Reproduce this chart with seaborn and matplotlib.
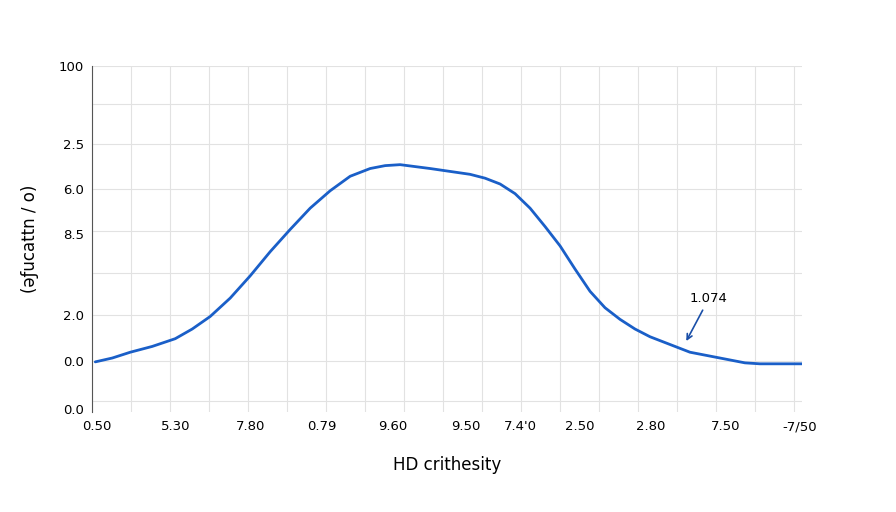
import matplotlib
matplotlib.use("Agg")
import matplotlib.pyplot as plt
import seaborn as sns
import pandas as pd

# curve samples (x position along axis, height)
curve_x = [3, 20, 38, 60, 83, 100, 118, 138, 158, 178, 198, 218, 238, 258, 278, 293, 308, 323, 338,
           358, 378, 393, 408, 423, 438, 453, 468, 483, 498, 513, 528, 543, 558, 578, 598, 618, 638, 653, 668, 690, 710]
curve_y = [40, 44, 50, 56, 64, 74, 87, 106, 129, 154, 177, 199, 217, 232, 240, 243, 244, 242, 240,
           237, 234, 230, 224, 214, 199, 180, 160, 136, 113, 96, 84, 74, 66, 58, 50, 46, 42, 39, 38, 38, 38]

x_tick_pos = [5, 83, 158, 230, 301, 374, 428, 488, 559, 634, 708]
x_tick_labels = ["0.50", "5.30", "7.80", "0.79", "9.60", "9.50", "7.4'0", "2.50", "2.80", "7.50", "-7/50"]
y_tick_pos = [346, 265, 219, 172, 88, 41, -9]
y_tick_labels = ["100", "2.5", "6.0", "8.5", "2.0", "0.0", "0.0"]
y_grid = [346, 307, 265, 219, 175, 132, 88, 41, 0]
x_grid = list(range(0, 711, 39))

df = pd.DataFrame({"x": curve_x, "y": curve_y})

fig = plt.figure(figsize=(8.96, 5.12), dpi=100)
ax = fig.add_axes([0.103, 0.195, 0.792, 0.676])
for g in y_grid:
    ax.axhline(g, color="#e2e2e2", lw=0.8, zorder=0)
for g in x_grid:
    ax.axvline(g, color="#e2e2e2", lw=0.8, zorder=0)

sns.lineplot(data=df, x="x", y="y", ax=ax, color="#1a5fc8", lw=2.0,
             errorbar=None, solid_joinstyle="round", solid_capstyle="round")

ax.set_xlim(0, 710)
ax.set_ylim(-12, 346)
ax.set_xticks(x_tick_pos)
ax.set_xticklabels(x_tick_labels, fontsize=9.5)
ax.set_yticks(y_tick_pos)
ax.set_yticklabels(y_tick_labels, fontsize=9.5)
ax.tick_params(length=0, pad=6)
ax.set_xlabel("")
ax.set_ylabel("")
for s in ["top", "right", "bottom"]:
    ax.spines[s].set_visible(False)
ax.spines["left"].set_color("#555555")
ax.set_xlabel("HD crithesity", fontsize=12, labelpad=16)
ax.set_ylabel("(əƒucattn / o)", fontsize=12, labelpad=14)
ax.annotate("1.074", xy=(593, 59), xytext=(598, 102), fontsize=9.5,
            arrowprops=dict(arrowstyle="->", color="#1a4fa8", lw=1.2))
fig.savefig("out.png", dpi=100)
